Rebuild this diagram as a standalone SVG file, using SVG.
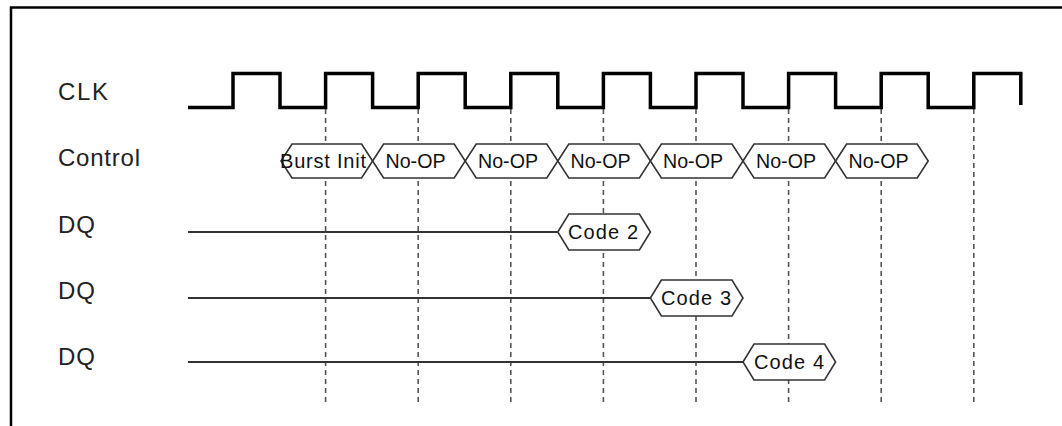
<svg xmlns="http://www.w3.org/2000/svg" width="1062" height="426" viewBox="0 0 1062 426">
<style>
.lbl{font-family:"Liberation Sans",Arial,sans-serif;font-size:24px;fill:#222}
.ht{font-family:"Liberation Sans",Arial,sans-serif;font-size:20px;fill:#111;text-anchor:middle}
.hex{fill:#fff;stroke:#333;stroke-width:1.6}
.wire{fill:none;stroke:#333;stroke-width:1.8}
.guide{fill:none;stroke:#555;stroke-width:1.6;stroke-dasharray:5 4}
.clk{fill:none;stroke:#000;stroke-width:3.5;stroke-linejoin:miter}
</style>
<rect width="1062" height="426" fill="#fff"/>
<g id="frame">
<path d="M1062,7.5 H11 V426" fill="none" stroke="#000" stroke-width="2.5"/>
</g>
<g id="labels">
<text class="lbl" x="58" y="99.5" textLength="50" lengthAdjust="spacing">CLK</text>
<text class="lbl" x="58" y="165.5" textLength="82" lengthAdjust="spacing">Control</text>
<text class="lbl" x="58" y="233" textLength="37" lengthAdjust="spacing">DQ</text>
<text class="lbl" x="58" y="299" textLength="37" lengthAdjust="spacing">DQ</text>
<text class="lbl" x="58" y="365" textLength="37" lengthAdjust="spacing">DQ</text>
</g>
<g id="connectors">
<line class="guide" x1="325.6" y1="109" x2="325.6" y2="404"/>
<line class="guide" x1="418.2" y1="109" x2="418.2" y2="404"/>
<line class="guide" x1="510.8" y1="109" x2="510.8" y2="404"/>
<line class="guide" x1="603.4" y1="109" x2="603.4" y2="404"/>
<line class="guide" x1="696" y1="109" x2="696" y2="404"/>
<line class="guide" x1="788.6" y1="109" x2="788.6" y2="404"/>
<line class="guide" x1="881.2" y1="109" x2="881.2" y2="404"/>
<line class="guide" x1="973.8" y1="109" x2="973.8" y2="404"/>
</g>
<g id="clk">
<path class="clk" d="M188,107.5 H233 V73.5 H280 V107.5 H325.6 V73.5 H372.6 V107.5 H418.2 V73.5 H465.2 V107.5 H510.8 V73.5 H557.8 V107.5 H603.4 V73.5 H650.4 V107.5 H696 V73.5 H743 V107.5 H788.6 V73.5 H835.6 V107.5 H881.2 V73.5 H928.2 V107.5 H973.8 V73.5 H1020.8 V105"/>
</g>
<g id="control">
<g id="ctl-burst-init"><polygon class="hex" points="281,161 292,144 361.6,144 372.6,161 361.6,178 292,178"/><text class="ht" x="323" y="168" textLength="86" lengthAdjust="spacing">Burst Init</text></g>
<g id="ctl-noop-1"><polygon class="hex" points="372.6,161 383.6,144 454.2,144 465.2,161 454.2,178 383.6,178"/><text class="ht" x="415.5" y="168" textLength="60" lengthAdjust="spacingAndGlyphs">No-OP</text></g>
<g id="ctl-noop-2"><polygon class="hex" points="465.2,161 476.2,144 546.8,144 557.8,161 546.8,178 476.2,178"/><text class="ht" x="508" y="168" textLength="60" lengthAdjust="spacingAndGlyphs">No-OP</text></g>
<g id="ctl-noop-3"><polygon class="hex" points="557.8,161 568.8,144 639.4,144 650.4,161 639.4,178 568.8,178"/><text class="ht" x="600.5" y="168" textLength="60" lengthAdjust="spacingAndGlyphs">No-OP</text></g>
<g id="ctl-noop-4"><polygon class="hex" points="650.4,161 661.4,144 732,144 743,161 732,178 661.4,178"/><text class="ht" x="693" y="168" textLength="60" lengthAdjust="spacingAndGlyphs">No-OP</text></g>
<g id="ctl-noop-5"><polygon class="hex" points="743,161 754,144 824.6,144 835.6,161 824.6,178 754,178"/><text class="ht" x="786" y="168" textLength="60" lengthAdjust="spacingAndGlyphs">No-OP</text></g>
<g id="ctl-noop-6"><polygon class="hex" points="835.6,161 846.6,144 917.2,144 928.2,161 917.2,178 846.6,178"/><text class="ht" x="878.5" y="168" textLength="60" lengthAdjust="spacingAndGlyphs">No-OP</text></g>
</g>
<g id="dq1">
<line class="wire" x1="188" y1="232" x2="557.8" y2="232"/>
<g id="dq1-code2"><polygon class="hex" points="557.8,232 568.8,214 639.4,214 650.4,232 639.4,250 568.8,250"/><text class="ht" x="603" y="239" textLength="70" lengthAdjust="spacing">Code 2</text></g>
</g>
<g id="dq2">
<line class="wire" x1="188" y1="298" x2="650.4" y2="298"/>
<g id="dq2-code3"><polygon class="hex" points="650.4,298 661.4,280 732,280 743,298 732,316 661.4,316"/><text class="ht" x="696" y="305" textLength="70" lengthAdjust="spacing">Code 3</text></g>
</g>
<g id="dq3">
<line class="wire" x1="188" y1="362" x2="743" y2="362"/>
<g id="dq3-code4"><polygon class="hex" points="743,362 754,344 824.6,344 835.6,362 824.6,380 754,380"/><text class="ht" x="789" y="369" textLength="70" lengthAdjust="spacing">Code 4</text></g>
</g>
</svg>
